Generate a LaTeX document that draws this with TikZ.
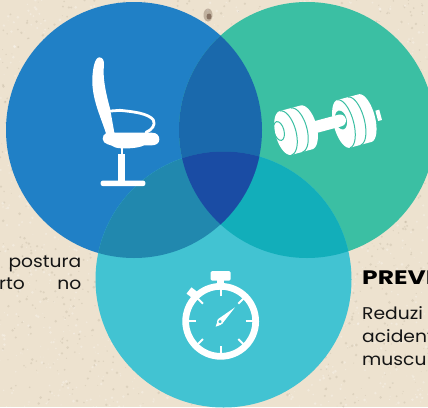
\documentclass[tikz,border=0pt]{standalone}
\usepackage{fontspec}
\usetikzlibrary{calc}
\setmainfont{Poppins}
\newfontfamily\bodyfont[FakeStretch=1.1]{Poppins}
\newfontfamily\headfont[FakeStretch=1.28]{Poppins Bold}
\definecolor{bgc}{HTML}{EDE2CF}
\definecolor{cblue}{HTML}{2080C6}
\definecolor{cgreen}{HTML}{3BBFA3}
\definecolor{ccyan}{HTML}{42C3D2}
\definecolor{ovbg}{HTML}{1A69AC}
\definecolor{ovbc}{HTML}{2188AE}
\definecolor{ovgc}{HTML}{12AEBA}
\definecolor{ovall}{HTML}{1A4CA4}
\definecolor{txt}{HTML}{141414}
\definecolor{grain}{HTML}{8C7F66}
\definecolor{stain}{HTML}{5A4030}
\tikzset{
  bodytxt/.style={anchor=base west,inner sep=0pt,font=\fontsize{17pt}{20pt}\bodyfont,text=txt},
  headtxt/.style={anchor=base west,inner sep=0pt,font=\fontsize{19.5pt}{20pt}\headfont,text=black},
  stripe/.style={draw=cgreen,line width=1pt},
  tick/.style={draw=white,line width=2pt}
}
\begin{document}
\begin{tikzpicture}[x=1pt,y=-1pt]
\useasboundingbox (0,0) rectangle (428,407);
\clip (0,0) rectangle (428,407);
\fill[bgc] (0,0) rectangle (428,407);
% paper texture
\pgfmathsetseed{42}
\foreach \i in {1,...,3000}{
  \pgfmathsetmacro{\px}{rnd*428}
  \pgfmathsetmacro{\py}{rnd*407}
  \pgfmathsetmacro{\pr}{0.4+rnd*1.1}
  \pgfmathsetmacro{\pk}{rnd}
  \ifdim\pk pt<0.55pt
    \fill[white,opacity=0.28] (\px,\py) circle[radius=\pr];
  \else
    \fill[grain,opacity=0.16] (\px,\py) circle[radius=\pr];
  \fi
}
\fill[stain,opacity=.3] (208,15) ellipse[x radius=4.5,y radius=6.5];
\fill[stain,opacity=.55] (209,16.5) ellipse[x radius=2.5,y radius=3];
% circles
\fill[cblue] (134,130) circle[radius=128];
\fill[cgreen] (307,130) circle[radius=128];
\fill[ccyan] (223.5,279.5) circle[radius=128];
\begin{scope}
  \clip (307,130) circle[radius=128];
  \fill[ovgc] (223.5,279.5) circle[radius=128];
\end{scope}
\begin{scope}
  \clip (134,130) circle[radius=128];
  \fill[ovbg] (307,130) circle[radius=128];
  \fill[ovbc] (223.5,279.5) circle[radius=128];
  \clip (307,130) circle[radius=128];
  \fill[ovall] (223.5,279.5) circle[radius=128];
\end{scope}
% chair
\begin{scope}[shift={(70,40)},scale=1/3]
  \fill[white] (88,52) .. controls (98,52) and (103,62) .. (102,75)
    .. controls (98,110) and (105,150) .. (120,205)
    -- (133,278) -- (245,278) .. controls (262,278) and (268,288) .. (268,298)
    .. controls (268,310) and (258,316) .. (245,316) -- (222,316)
    .. controls (205,326) and (150,328) .. (135,322)
    .. controls (122,312) and (100,315) .. (98,297)
    .. controls (98,288) and (102,282) .. (108,280)
    .. controls (90,225) and (65,175) .. (67,115)
    .. controls (68,85) and (75,52) .. (88,52) -- cycle;
  \draw[white,line width=2.8pt,line cap=round,line join=round] (122,213) -- (150,211) .. controls (190,215) and (235,220) .. (250,240)
    .. controls (258,255) and (245,270) .. (228,277);
  \fill[white] (152,322) rectangle (160,345);
  \fill[white] (145,343) rectangle (166,425);
  \fill[white,rounded corners=2pt] (92,422) rectangle (226,438);
\end{scope}
% dumbbell: right weights
\begin{scope}[shift={(320,90)},scale=1/3]
  \fill[white,rotate around={15:(176,76)}] (170,60) rectangle (182,92);
  \begin{scope}[shift={(103,93)},rotate=15]
    \fill[white] plot[domain=-90:90,samples=30] ({33+30*cos(\x)},{74*sin(\x)})
      -- plot[domain=90:270,samples=30] ({-33+30*cos(\x)},{74*sin(\x)}) -- cycle;
    \draw[stripe] plot[domain=-90:90,samples=30] ({0+30*cos(\x)},{74*sin(\x)});
    \draw[stripe] plot[domain=-90:90,samples=30] ({-33+30*cos(\x)},{74*sin(\x)});
  \end{scope}
  \fill[cgreen,rotate around={15:(63,90)}] (63,90) ellipse[x radius=17,y radius=29];
\end{scope}
\draw[white,line width=12pt,line cap=round] (312,128) -- (340,120.5);
% dumbbell: left weights
\begin{scope}[shift={(268,100)},scale=1/3]
  \begin{scope}[shift={(86,90)},rotate=15]
    \fill[white] plot[domain=-90:90,samples=30] ({30+31*cos(\x)},{68*sin(\x)})
      -- plot[domain=90:270,samples=30] ({-34+31*cos(\x)},{68*sin(\x)}) -- cycle;
    \draw[stripe] plot[domain=-90:90,samples=30] ({0+31*cos(\x)},{68*sin(\x)});
    \draw[stripe] plot[domain=-90:90,samples=30] ({-34+31*cos(\x)},{68*sin(\x)});
  \end{scope}
  \draw[cgreen,line width=1pt,rotate around={15:(33,93)}] (33,93) ellipse[x radius=15,y radius=29];
\end{scope}
% stopwatch
\begin{scope}[shift={(170,260)},scale=1/3]
  \draw[white,line width=6.7pt] (152,184) circle[radius=105];
  \fill[white,rounded corners=1.5pt] (122,33) rectangle (182,62);
  \fill[white] (140,60) rectangle (162,78);
  \fill[white,rotate around={-38:(68,100)}] (54,88) rectangle (82,112);
  \foreach \a in {0,45,...,315}{
    \draw[tick] ($(152,184)+(\a:75)$) -- ($(152,184)+(\a:98)$);
  }
  \fill[white] (143,178) -- (195,142) -- (156,192) -- cycle;
  \fill[white] (137,200) -- (143,182) -- (154,194) -- cycle;
  \filldraw[fill=ccyan,draw=white,line width=1.3pt] (150,185) circle[radius=7];
\end{scope}
% text
\node[headtxt] (h) at (362,284) {PREVE};
\node[bodytxt] (r1) at (362,319) {Reduzi};
\node[bodytxt] (r2) at (362,342) {acident};
\node[bodytxt] (r3) at (362,365) {muscu};
\node[bodytxt,anchor=base east] (l1) at (81.5,267) {postura};
\node[bodytxt,anchor=base east] (l2) at (25,289) {rto};
\node[bodytxt,anchor=base east] (l3) at (81.5,289) {no};
\end{tikzpicture}
\end{document}
